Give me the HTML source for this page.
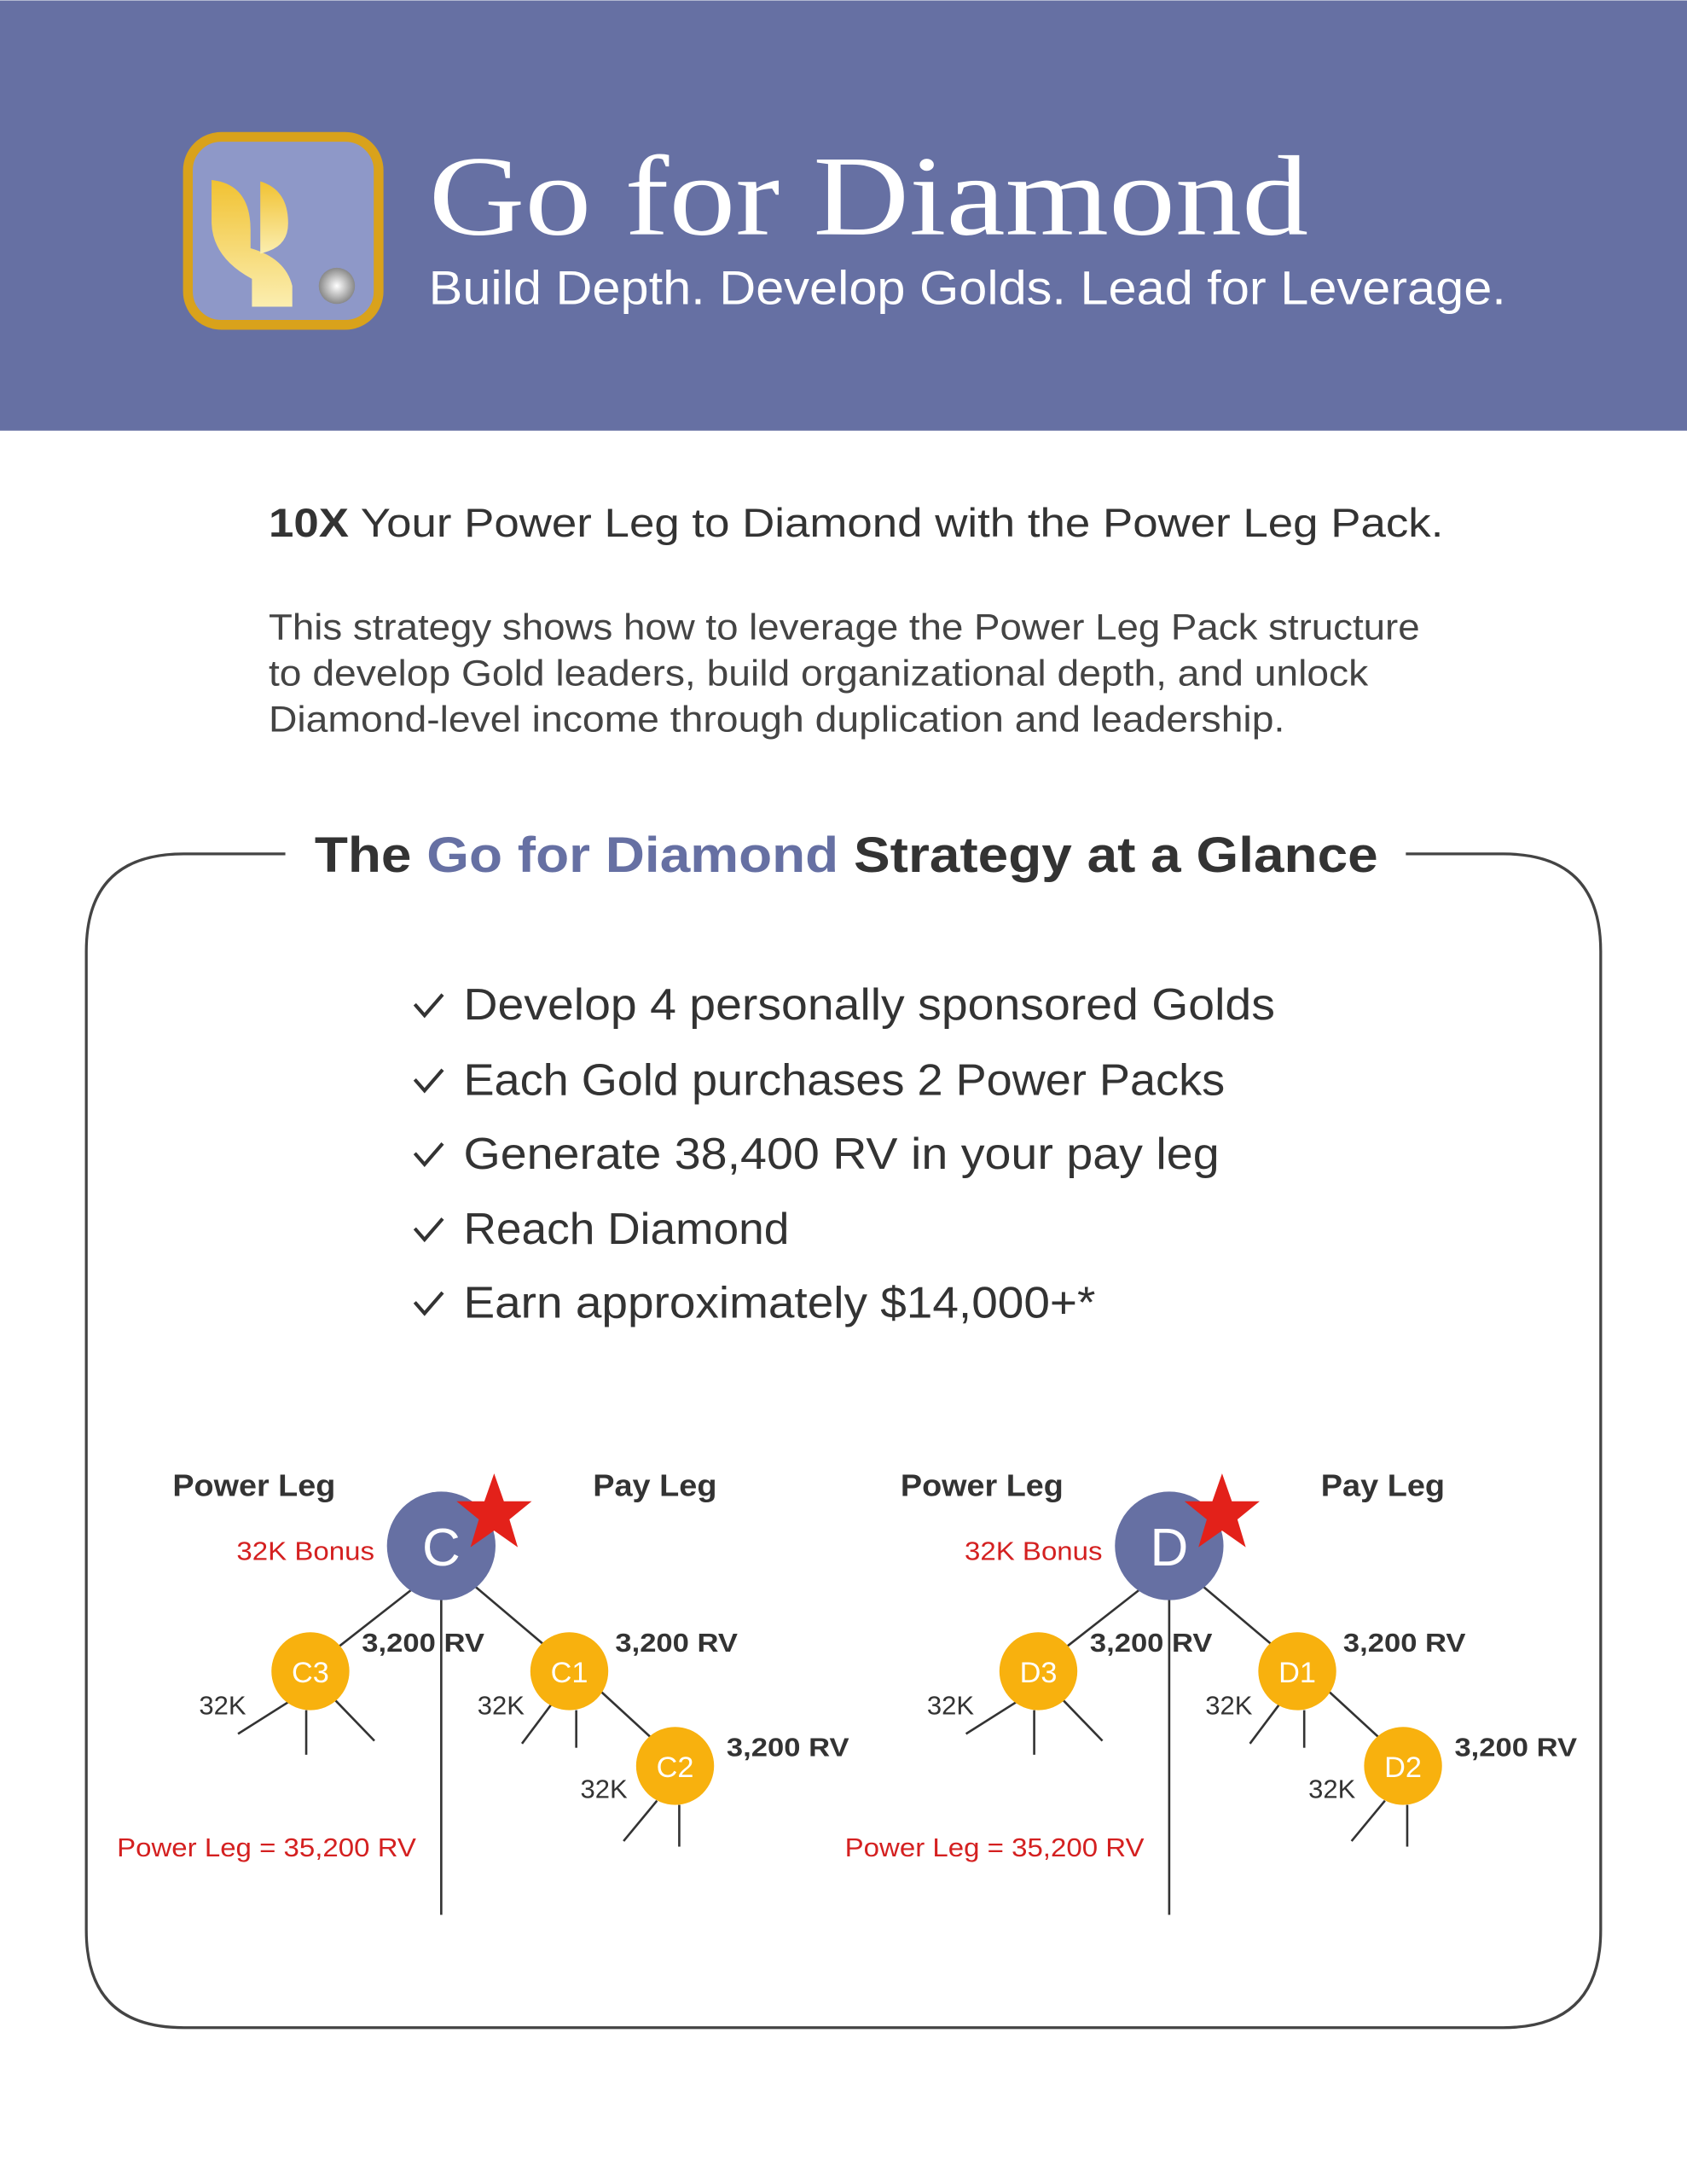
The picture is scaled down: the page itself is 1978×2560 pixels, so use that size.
<!DOCTYPE html>
<html><head><meta charset="utf-8"><style>html,body{margin:0;padding:0;background:#fff}svg{display:block}</style></head>
<body>
<svg width="1978" height="2560" viewBox="0 0 1212 1568" xmlns="http://www.w3.org/2000/svg" font-family="Liberation Sans, sans-serif">
<defs>
<linearGradient id="g" x1="0" y1="0" x2="0" y2="1"><stop offset="0" stop-color="#f1c232"/><stop offset="1" stop-color="#fbeeb0"/></linearGradient>
<radialGradient id="dm"><stop offset="0" stop-color="#fff"/><stop offset="1" stop-color="#888"/></radialGradient>
</defs>
<rect x="0" y="0" width="1212" height="309" fill="#6670a3"/>
<rect x="135" y="98" width="137" height="135" rx="24" fill="#8e98c8" stroke="#d9a21b" stroke-width="7"/>
<path d="M152 129 Q180 132 180 165 L180 178 Q205 185 210 205 L210 220 L181 220 L181 200 Q153 185 152 160 Z" fill="url(#g)"/>
<path d="M187 130 Q207 136 207 160 Q207 175 193 180 L187 182 Z" fill="url(#g)"/>
<circle cx="242" cy="205" r="13" fill="url(#dm)"/>
<text x="308" y="168" font-family="Liberation Serif, serif" font-size="82" fill="#fff" textLength="632" lengthAdjust="spacingAndGlyphs">Go for Diamond</text>
<text x="308" y="218" font-size="34" fill="#fff" textLength="774" lengthAdjust="spacingAndGlyphs">Build Depth. Develop Golds. Lead for Leverage.</text>
<text x="193" y="385" font-size="29" fill="#333" textLength="844" lengthAdjust="spacingAndGlyphs"><tspan font-weight="bold">10X</tspan> Your Power Leg to Diamond with the Power Leg Pack.</text>
<g font-size="26" fill="#444">
<text x="193" y="459" textLength="827" lengthAdjust="spacingAndGlyphs">This strategy shows how to leverage the Power Leg Pack structure</text>
<text x="193" y="492" textLength="790" lengthAdjust="spacingAndGlyphs">to develop Gold leaders, build organizational depth, and unlock</text>
<text x="193" y="525" textLength="730" lengthAdjust="spacingAndGlyphs">Diamond-level income through duplication and leadership.</text>
</g>
<path d="M205 613 L132 613 Q62 613 62 683 L62 1386 Q62 1456 132 1456 L1080 1456 Q1150 1456 1150 1386 L1150 683 Q1150 613 1080 613 L1010 613" fill="none" stroke="#444" stroke-width="2"/>
<text x="226" y="626" font-size="36" font-weight="bold" fill="#333" textLength="764" lengthAdjust="spacingAndGlyphs">The <tspan fill="#6670a3">Go for Diamond</tspan> Strategy at a Glance</text>
<g font-size="32" fill="#333">
<g fill="none" stroke="#333" stroke-width="2.5"><path d="M298 721 l7 8 l13 -15"/><path d="M298 775 l7 8 l13 -15"/><path d="M298 828 l7 8 l13 -15"/><path d="M298 882 l7 8 l13 -15"/><path d="M298 935 l7 8 l13 -15"/></g>
<text x="333" y="732" textLength="583" lengthAdjust="spacingAndGlyphs">Develop 4 personally sponsored Golds</text>
<text x="333" y="786" textLength="547" lengthAdjust="spacingAndGlyphs">Each Gold purchases 2 Power Packs</text>
<text x="333" y="839" textLength="543" lengthAdjust="spacingAndGlyphs">Generate 38,400 RV in your pay leg</text>
<text x="333" y="893" textLength="234" lengthAdjust="spacingAndGlyphs">Reach Diamond</text>
<text x="333" y="946" textLength="454" lengthAdjust="spacingAndGlyphs">Earn approximately $14,000+*</text>
</g>
<g id="tree">
<g stroke="#333" stroke-width="1.6">
<line x1="317" y1="1140" x2="317" y2="1375"/>
<line x1="295" y1="1142" x2="240" y2="1185"/>
<line x1="340" y1="1138" x2="392" y2="1182"/>
<line x1="209" y1="1221" x2="171" y2="1245"/>
<line x1="220" y1="1228" x2="220" y2="1260"/>
<line x1="241" y1="1221" x2="269" y2="1250"/>
<line x1="396" y1="1224" x2="375" y2="1252"/>
<line x1="414" y1="1228" x2="414" y2="1255"/>
<line x1="430" y1="1213" x2="467" y2="1247"/>
<line x1="472" y1="1293" x2="448" y2="1322"/>
<line x1="488" y1="1296" x2="488" y2="1326"/>
</g>
<circle cx="317" cy="1110" r="39" fill="#6670a3"/>
<polygon points="355,1058 362,1078 382,1078 366,1091 372,1111 355,1099 338,1111 344,1091 328,1078 348,1078" fill="#e3211a"/>
<text x="317" y="1124" font-size="38" fill="#fff" text-anchor="middle">C</text>
<circle cx="223" cy="1200" r="28" fill="#f8b10e"/>
<circle cx="409" cy="1200" r="28" fill="#f8b10e"/>
<circle cx="485" cy="1268" r="28" fill="#f8b10e"/>
<g font-size="21" fill="#fff" text-anchor="middle"><text x="223" y="1208">C3</text><text x="409" y="1208">C1</text><text x="485" y="1276">C2</text></g>
<g font-size="22" font-weight="bold" fill="#333"><text x="124" y="1074" textLength="117" lengthAdjust="spacingAndGlyphs">Power Leg</text><text x="426" y="1074" textLength="89" lengthAdjust="spacingAndGlyphs">Pay Leg</text></g>
<g font-size="19" font-weight="bold" fill="#333"><text x="260" y="1186" textLength="88" lengthAdjust="spacingAndGlyphs">3,200 RV</text><text x="442" y="1186" textLength="88" lengthAdjust="spacingAndGlyphs">3,200 RV</text><text x="522" y="1261" textLength="88" lengthAdjust="spacingAndGlyphs">3,200 RV</text></g>
<g font-size="19" fill="#333"><text x="143" y="1231">32K</text><text x="343" y="1231">32K</text><text x="417" y="1291">32K</text></g>
<g font-size="19" fill="#d42020"><text x="170" y="1120" textLength="99" lengthAdjust="spacingAndGlyphs">32K Bonus</text><text x="84" y="1333" textLength="215" lengthAdjust="spacingAndGlyphs">Power Leg = 35,200 RV</text></g>
</g>
<g transform="translate(523,0)">
<g stroke="#333" stroke-width="1.6">
<line x1="317" y1="1140" x2="317" y2="1375"/>
<line x1="295" y1="1142" x2="240" y2="1185"/>
<line x1="340" y1="1138" x2="392" y2="1182"/>
<line x1="209" y1="1221" x2="171" y2="1245"/>
<line x1="220" y1="1228" x2="220" y2="1260"/>
<line x1="241" y1="1221" x2="269" y2="1250"/>
<line x1="396" y1="1224" x2="375" y2="1252"/>
<line x1="414" y1="1228" x2="414" y2="1255"/>
<line x1="430" y1="1213" x2="467" y2="1247"/>
<line x1="472" y1="1293" x2="448" y2="1322"/>
<line x1="488" y1="1296" x2="488" y2="1326"/>
</g>
<circle cx="317" cy="1110" r="39" fill="#6670a3"/>
<polygon points="355,1058 362,1078 382,1078 366,1091 372,1111 355,1099 338,1111 344,1091 328,1078 348,1078" fill="#e3211a"/>
<text x="317" y="1124" font-size="38" fill="#fff" text-anchor="middle">D</text>
<circle cx="223" cy="1200" r="28" fill="#f8b10e"/>
<circle cx="409" cy="1200" r="28" fill="#f8b10e"/>
<circle cx="485" cy="1268" r="28" fill="#f8b10e"/>
<g font-size="21" fill="#fff" text-anchor="middle"><text x="223" y="1208">D3</text><text x="409" y="1208">D1</text><text x="485" y="1276">D2</text></g>
<g font-size="22" font-weight="bold" fill="#333"><text x="124" y="1074" textLength="117" lengthAdjust="spacingAndGlyphs">Power Leg</text><text x="426" y="1074" textLength="89" lengthAdjust="spacingAndGlyphs">Pay Leg</text></g>
<g font-size="19" font-weight="bold" fill="#333"><text x="260" y="1186" textLength="88" lengthAdjust="spacingAndGlyphs">3,200 RV</text><text x="442" y="1186" textLength="88" lengthAdjust="spacingAndGlyphs">3,200 RV</text><text x="522" y="1261" textLength="88" lengthAdjust="spacingAndGlyphs">3,200 RV</text></g>
<g font-size="19" fill="#333"><text x="143" y="1231">32K</text><text x="343" y="1231">32K</text><text x="417" y="1291">32K</text></g>
<g font-size="19" fill="#d42020"><text x="170" y="1120" textLength="99" lengthAdjust="spacingAndGlyphs">32K Bonus</text><text x="84" y="1333" textLength="215" lengthAdjust="spacingAndGlyphs">Power Leg = 35,200 RV</text></g>
</g>
</svg>
</body></html>
